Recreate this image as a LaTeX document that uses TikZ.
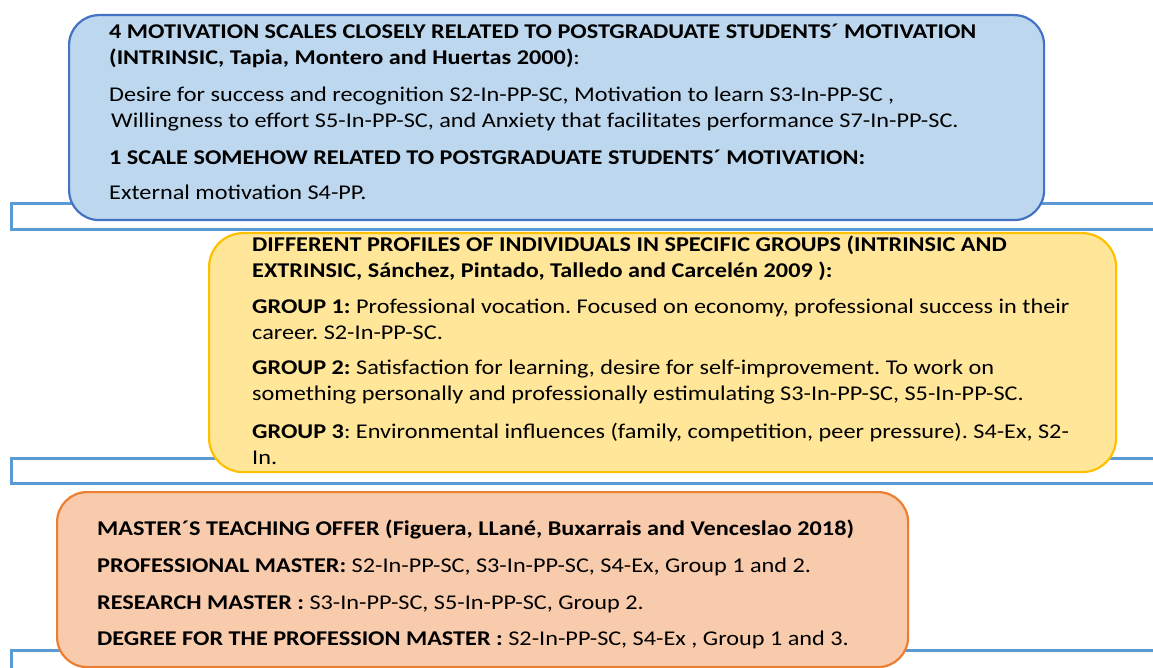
\documentclass[tikz,border=0pt]{standalone}
\usepackage{fontspec}
\setmainfont{Carlito}[FakeStretch=1.155]
\usepackage{xcolor}
\usetikzlibrary{positioning}

\definecolor{scalesfill}{HTML}{BDD7EE}
\definecolor{scalesline}{HTML}{4472C4}
\definecolor{profilefill}{HTML}{FFE699}
\definecolor{profileline}{HTML}{FFC000}
\definecolor{offerfill}{HTML}{F8CBAD}
\definecolor{offerline}{HTML}{ED7D31}
\definecolor{frameline}{HTML}{5B9BD5}

\frenchspacing

\begin{document}
\begin{tikzpicture}[
    x=1pt, y=-1pt,
    panel/.style={draw, line width=2.2pt, rectangle, rounded corners=30pt, anchor=north west, inner sep=0pt},
    txt/.style={anchor=base west, inner sep=0pt, font=\fontsize{21}{25.7}\selectfont},
    frame/.style={draw=frameline, line width=3pt},
]
\useasboundingbox (0,0) rectangle (1153,668);

% open frames behind the panels
\draw[frame] (1160,204) -- (11,204) -- (11,230) -- (1160,230);
\draw[frame] (1160,458) -- (11,458) -- (11,483) -- (1160,483);
\draw[frame] (1160,650) -- (11,650) -- (11,680);

% panels
\node[panel, fill=scalesfill, draw=scalesline, minimum width=975pt, minimum height=205pt] (scales) at (68,14) {};
\node[panel, fill=profilefill, draw=profileline, rounded corners=34pt, minimum width=907pt, minimum height=239pt] (profiles) at (208,232) {};
\node[panel, fill=offerfill, draw=offerline, minimum width=851pt, minimum height=175pt] (offer) at (56,491) {};

% first panel
\node[txt] (s1) at (109,38.3) {\textbf{4 MOTIVATION SCALES CLOSELY RELATED TO POSTGRADUATE STUDENTS´ MOTIVATION}};
\node[txt] (s2) at (109,64.5) {\textbf{(INTRINSIC, Tapia, Montero and Huertas 2000)}:};
\node[txt] (s3) at (109,101.7) {Desire for success and recognition S2-In-PP-SC, Motivation to learn S3-In-PP-SC ,};
\node[txt] (s4) at (111,127.3) {Willingness to effort S5-In-PP-SC, and Anxiety that facilitates performance S7-In-PP-SC.};
\node[txt] (s5) at (109,165) {\textbf{1 SCALE SOMEHOW RELATED TO POSTGRADUATE STUDENTS´ MOTIVATION:}};
\node[txt] (s6) at (109,200) {External motivation S4-PP.};

% second panel
\node[txt] (p1) at (252,251.3) {\textbf{DIFFERENT PROFILES OF INDIVIDUALS IN SPECIFIC GROUPS (INTRINSIC AND}};
\node[txt] (p2) at (252,277) {\textbf{EXTRINSIC, Sánchez, Pintado, Talledo and Carcelén 2009 ):}};
\node[txt] (p3) at (252,313.7) {\textbf{GROUP 1:} Professional vocation. Focused on economy, professional success in their};
\node[txt] (p4) at (252,339.3) {career. S2-In-PP-SC.};
\node[txt] (p5) at (252,374.7) {\textbf{GROUP 2:} Satisfaction for learning, desire for self-improvement. To work on};
\node[txt] (p6) at (252,400.3) {something personally and professionally estimulating S3-In-PP-SC, S5-In-PP-SC.};
\node[txt] (p7) at (252,438.7) {\textbf{GROUP 3}: Environmental influences (family, competition, peer pressure). S4-Ex, S2-};
\node[txt] (p8) at (252,464.3) {In.};

% third panel
\node[txt] (m1) at (97,535) {\textbf{MASTER´S TEACHING OFFER (Figuera, LLané, Buxarrais and Venceslao 2018)}};
\node[txt] (m2) at (97,572.3) {\textbf{PROFESSIONAL MASTER:} S2-In-PP-SC, S3-In-PP-SC, S4-Ex, Group 1 and 2.};
\node[txt] (m3) at (97,609) {\textbf{RESEARCH MASTER :} S3-In-PP-SC, S5-In-PP-SC, Group 2.};
\node[txt] (m4) at (97,645) {\textbf{DEGREE FOR THE PROFESSION MASTER :} S2-In-PP-SC, S4-Ex , Group 1 and 3.};
\end{tikzpicture}
\end{document}
